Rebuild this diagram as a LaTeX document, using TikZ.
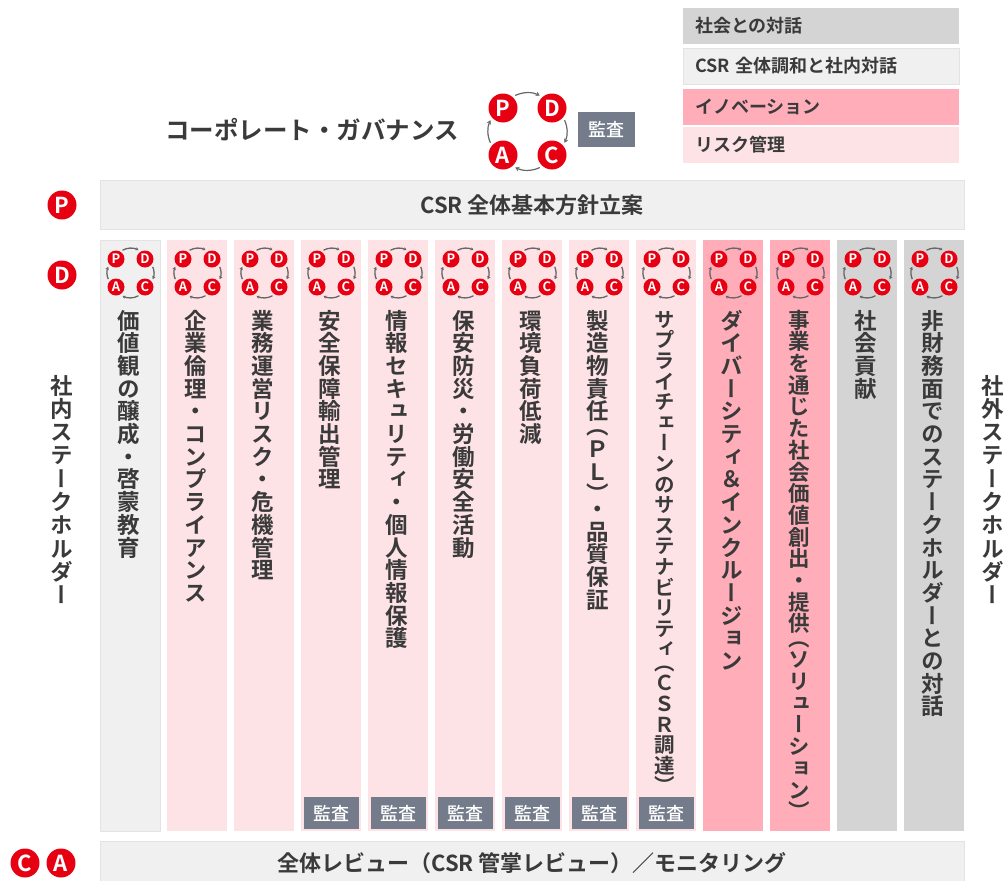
\documentclass[tikz,border=0pt]{standalone}
\usepackage{fontspec}
\usetikzlibrary{arrows.meta}
\setmainfont{Noto Sans CJK JP Bold}
\newfontfamily\jpmedium{Noto Sans CJK JP Medium}
\newfontfamily\jpvert[RawFeature=+vert]{Noto Sans CJK JP Bold}
\definecolor{inkgray}{HTML}{3A3A3A}
\definecolor{panelgray}{HTML}{D4D4D4}
\definecolor{panellight}{HTML}{F0F0F0}
\definecolor{edgelight}{HTML}{E3E3E3}
\definecolor{panelrose}{HTML}{FFAEB9}
\definecolor{panelpink}{HTML}{FDE2E6}
\definecolor{auditslate}{HTML}{747C8C}
\definecolor{pdcared}{HTML}{E60012}
\definecolor{arrowgray}{HTML}{666666}
% one character under the other, optional argument is the pitch
\makeatletter
\def\vopen{（}
\def\vclose{）}
\newcommand\vstack[2][22.7pt]{\vbox{\baselineskip=#1\lineskiplimit=-100pt\relax
  \@tfor\vchar:=#2\do{\ifx\vchar\vopen\vskip-.35em\fi
    \hbox to 1em{\vrule height.88em depth.12em width0pt\hss\vchar\hss}%
    \ifx\vchar\vclose\vskip-.35em\fi}}}
\makeatother
\tikzset{
  panel/.style={minimum width=60pt,minimum height=591pt,inner sep=0pt},
  society/.style={panel,fill=panelgray},
  internal/.style={panel,fill=panellight,draw=edgelight},
  innovation/.style={panel,fill=panelrose},
  risk/.style={panel,fill=panelpink},
  legend/.style={minimum width=276pt,minimum height=36pt,text width=252pt,align=left,inner sep=0pt,text=inkgray,font=\fontsize{18}{20}\selectfont},
  wide/.style={fill=panellight,draw=edgelight,inner sep=0pt,text=inkgray,font=\fontsize{22}{25}\selectfont},
  audit/.style={fill=auditslate,text=white,inner sep=0pt,minimum width=55pt,minimum height=32pt,font=\jpmedium\fontsize{18}{20}\selectfont},
  pdcabig/.style={circle,fill=pdcared,draw=none,text=white,minimum size=29pt,inner sep=0pt,font=\fontsize{22}{22}\selectfont},
  pdcasmall/.style={circle,fill=pdcared,draw=none,text=white,minimum size=17pt,inner sep=0pt,font=\fontsize{13}{13}\selectfont},
  cyclearrow/.style={draw=arrowgray,line width=1.2pt,-{Stealth[length=4pt,width=4.5pt]},shorten <=3pt,shorten >=3pt},
  cycleline/.style={draw=arrowgray,line width=1.3pt,-{Stealth[length=3pt,width=3.5pt]},shorten <=2.5pt,shorten >=2.5pt},
  vlabel/.style={anchor=north,inner sep=0pt,text=inkgray,font=\jpvert\fontsize{22.5}{22.5}\selectfont},
  cyclemark/.pic={
    \node[pdcasmall] (-p) at (-14.5,-14) {P};
    \node[pdcasmall] (-d) at (14.5,-14) {D};
    \node[pdcasmall] (-a) at (-14.5,14) {A};
    \node[pdcasmall] (-c) at (14.5,14) {C};
    \draw[cycleline] (-p.60) to[bend left=30] (-d.120);
    \draw[cycleline] (-d.-40) to[bend left=25] (-c.40);
    \draw[cycleline] (-c.-120) to[bend left=30] (-a.-60);
    \draw[cycleline] (-a.140) to[bend left=25] (-p.-140);
  }
}
\begin{document}
\begin{tikzpicture}[x=1pt,y=-1pt]
\clip (0,0) rectangle (1005,881);
% legend
\node[legend,fill=panelgray] (legsociety) at (821,26) {社会との対話};
\node[legend,fill=panellight,draw=edgelight] (leginternal) at (821,66) {CSR 全体調和と社内対話};
\node[legend,fill=panelrose] (leginnovation) at (821,107) {イノベーション};
\node[legend,fill=panelpink] (legrisk) at (821,145) {リスク管理};
% governance
\node[text=inkgray,font=\fontsize{24.5}{28}\selectfont] (governance) at (312,130) {コーポレート・ガバナンス};
\node[pdcabig] (p) at (503,108) {P};
\node[pdcabig] (d) at (552,108) {D};
\node[pdcabig] (a) at (503,155) {A};
\node[pdcabig] (c) at (552,155) {C};
\draw[cyclearrow] (p.50) to[bend left=25] (d.130);
\draw[cyclearrow] (d.-40) to[bend left=25] (c.40);
\draw[cyclearrow] (c.-130) to[bend left=25] (a.-50);
\draw[cyclearrow] (a.140) to[bend left=25] (p.-140);
\node[audit,minimum width=57pt,minimum height=35pt] (govaudit) at (606,129.5) {監査};
% planning bar
\node[wide,minimum width=864pt,minimum height=49pt] (plan) at (532,205) {CSR 全体基本方針立案};
\node[pdcabig] (planp) at (62,205) {P};
\node[pdcabig] (pland) at (62,275) {D};
% columns
\node[internal] (col1) at (130,535.5) {};
\node[risk] (col2) at (197,535.5) {};
\node[risk] (col3) at (264,535.5) {};
\node[risk] (col4) at (331,535.5) {};
\node[risk] (col5) at (398,535.5) {};
\node[risk] (col6) at (465,535.5) {};
\node[risk] (col7) at (532,535.5) {};
\node[risk] (col8) at (599,535.5) {};
\node[risk] (col9) at (666,535.5) {};
\node[innovation] (col10) at (733,535.5) {};
\node[innovation] (col11) at (800,535.5) {};
\node[society] (col12) at (867,535.5) {};
\node[society] (col13) at (934,535.5) {};
\pic (cyc1) at (130.5,273) {cyclemark};
\pic (cyc2) at (197.5,273) {cyclemark};
\pic (cyc3) at (264.5,273) {cyclemark};
\pic (cyc4) at (331.5,273) {cyclemark};
\pic (cyc5) at (398.5,273) {cyclemark};
\pic (cyc6) at (465.5,273) {cyclemark};
\pic (cyc7) at (532.5,273) {cyclemark};
\pic (cyc8) at (599.5,273) {cyclemark};
\pic (cyc9) at (666.5,273) {cyclemark};
\pic (cyc10) at (733.5,273) {cyclemark};
\pic (cyc11) at (800.5,273) {cyclemark};
\pic (cyc12) at (867.5,273) {cyclemark};
\pic (cyc13) at (934.5,273) {cyclemark};
\node[vlabel] (txt1) at (129,309) {\vstack{価値観の醸成・啓蒙教育}};
\node[vlabel] (txt2) at (196,309) {\vstack{企業倫理・コンプライアンス}};
\node[vlabel] (txt3) at (263,309) {\vstack{業務運営リスク・危機管理}};
\node[vlabel] (txt4) at (330,309) {\vstack{安全保障輸出管理}};
\node[vlabel] (txt5) at (397,309) {\vstack{情報セキュリティ・個人情報保護}};
\node[vlabel] (txt6) at (464,309) {\vstack{保安防災・労働安全活動}};
\node[vlabel] (txt7) at (531,309) {\vstack{環境負荷低減}};
\node[vlabel] (txt8) at (598,309) {\vstack{製造物責任（ＰＬ）・品質保証}};
\node[vlabel,font=\jpvert\fontsize{20.5}{20.5}\selectfont] (txt9) at (665,309) {\vstack[20.6pt]{サプライチェーンのサステナビリティ（ＣＳＲ調達）}};
\node[vlabel] (txt10) at (732,309) {\vstack{ダイバーシティ＆インクルージョン}};
\node[vlabel,font=\jpvert\fontsize{21.5}{21.5}\selectfont] (txt11) at (799,309) {\vstack[21.7pt]{事業を通じた社会価値創出・提供（ソリューション）}};
\node[vlabel] (txt12) at (866,309) {\vstack{社会貢献}};
\node[vlabel] (txt13) at (933,309) {\vstack{非財務面でのステークホルダーとの対話}};
\node[audit] (aud4) at (331.5,813) {監査};
\node[audit] (aud5) at (398,813) {監査};
\node[audit] (aud6) at (465,813) {監査};
\node[audit] (aud7) at (532,813) {監査};
\node[audit] (aud8) at (599,813) {監査};
\node[audit] (aud9) at (666,813) {監査};
% side labels
\node[vlabel] (inside) at (62,374) {\vstack[23.3pt]{社内ステークホルダー}};
\node[vlabel] (outside) at (993,374) {\vstack[23.3pt]{社外ステークホルダー}};
% review bar
\node[wide,minimum width=864pt,minimum height=44pt] (review) at (532,863) {全体レビュー（CSR 管掌レビュー）／モニタリング};
\node[pdcabig] (revc) at (25,863) {C};
\node[pdcabig] (reva) at (61,863) {A};
\end{tikzpicture}
\end{document}
